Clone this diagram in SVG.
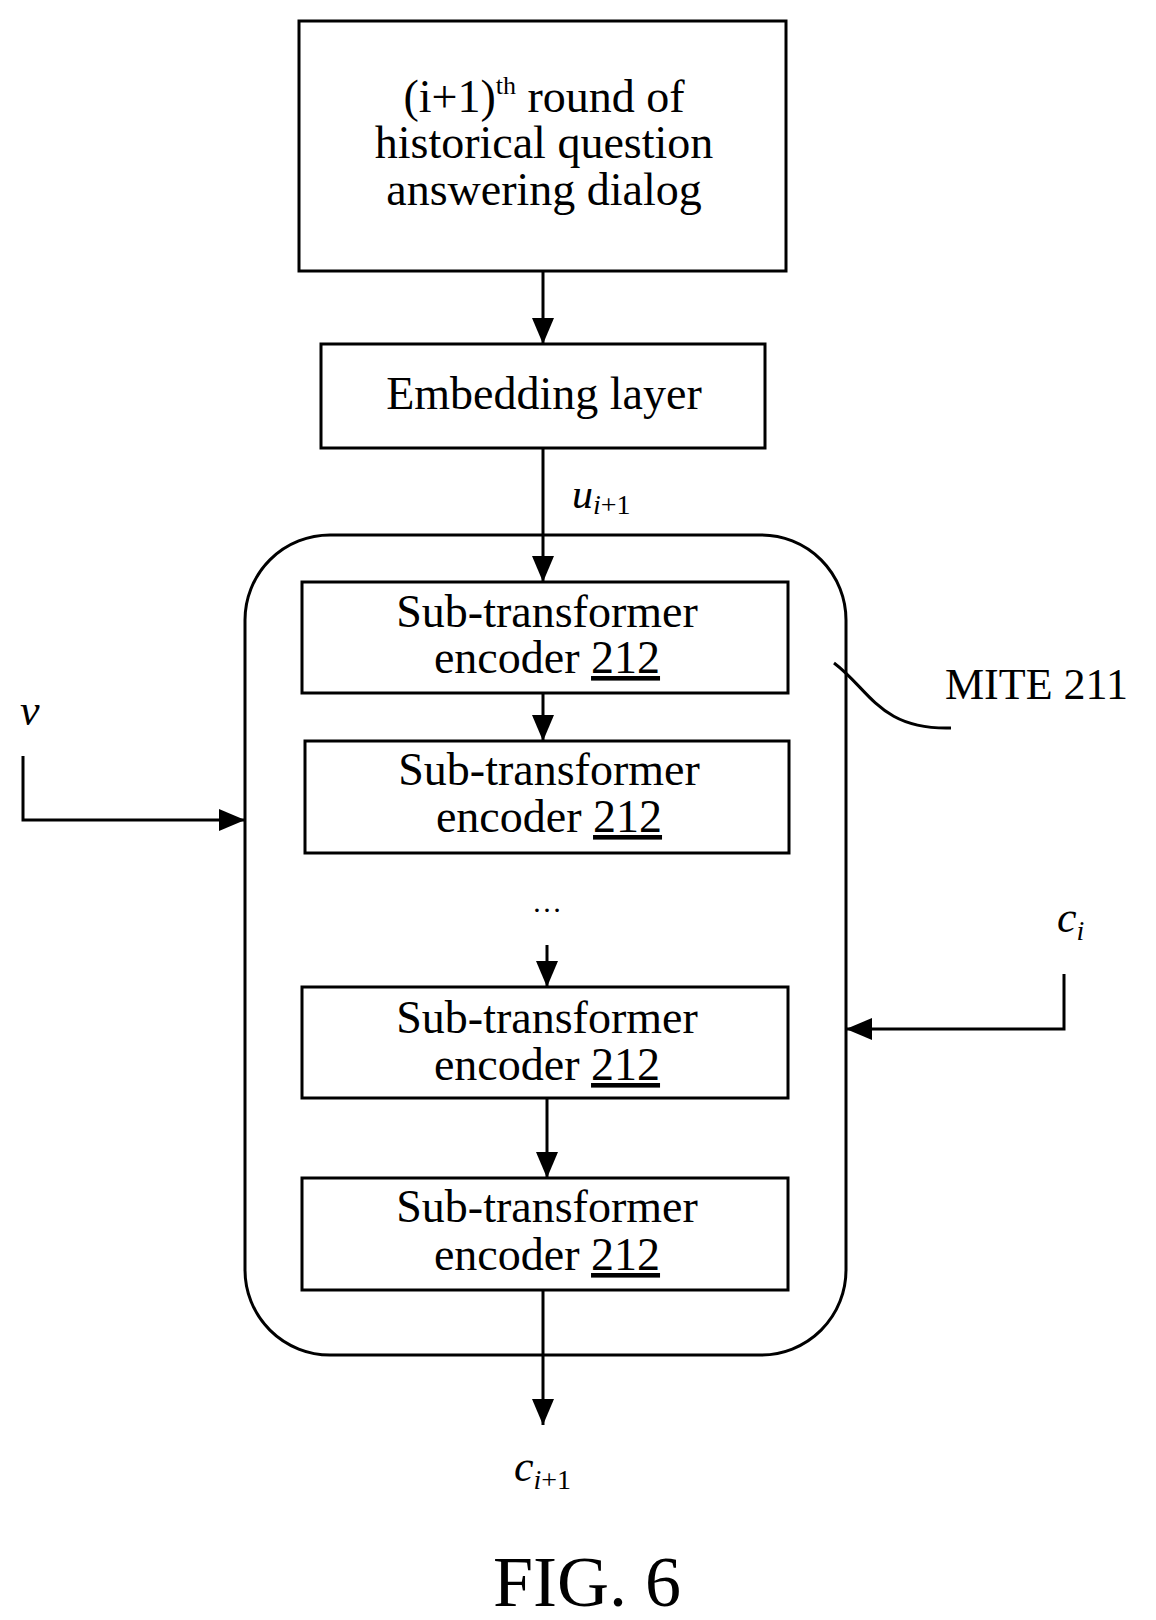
<svg xmlns="http://www.w3.org/2000/svg" width="1156" height="1620" viewBox="0 0 1156 1620">
<style>
text{font-family:"Liberation Serif","Times New Roman",serif;fill:#000}
.b{font-size:46px;text-anchor:middle}
.box{fill:#fff;stroke:#000;stroke-width:3}
.ln{stroke:#000;stroke-width:3;fill:none}
.it{font-style:italic}
</style>
<defs>
<marker id="ah" markerWidth="26" markerHeight="26" refX="26" refY="13" orient="auto" markerUnits="userSpaceOnUse" viewBox="0 0 26 26"><path d="M0,2 L26,13 L0,24z" fill="#000"/></marker></defs>
<g id="container"><rect class="box" x="245" y="535" width="601" height="820" rx="85"/></g>
<g id="n1"><rect class="box" x="299" y="21" width="487" height="250"/>
<text class="b" x="544" y="112">(i+1)<tspan font-size="26" dy="-18">th</tspan><tspan dy="18"> round of</tspan></text>
<text class="b" x="544" y="158">historical question</text>
<text class="b" x="544" y="205">answering dialog</text></g>
<g id="n2"><rect class="box" x="321" y="344" width="444" height="104"/><text class="b" x="544" y="409">Embedding layer</text></g>
<g id="s1"><rect class="box" x="302" y="582" width="486" height="111"/><text class="b" x="547" y="627">Sub-transformer</text><text class="b" x="547" y="673">encoder <tspan text-decoration="underline">212</tspan></text></g>
<g id="s2"><rect class="box" x="305" y="741" width="484" height="112"/><text class="b" x="549" y="785">Sub-transformer</text><text class="b" x="549" y="832">encoder <tspan text-decoration="underline">212</tspan></text></g>
<g id="s3"><rect class="box" x="302" y="987" width="486" height="111"/><text class="b" x="547" y="1033">Sub-transformer</text><text class="b" x="547" y="1080">encoder <tspan text-decoration="underline">212</tspan></text></g>
<g id="s4"><rect class="box" x="302" y="1178" width="486" height="112"/><text class="b" x="547" y="1222">Sub-transformer</text><text class="b" x="547" y="1270">encoder <tspan text-decoration="underline">212</tspan></text></g>
<g id="connectors">
<path class="ln" d="M543,271 V344" marker-end="url(#ah)"/>
<path class="ln" d="M543,448 V582" marker-end="url(#ah)"/>
<path class="ln" d="M543,693 V741" marker-end="url(#ah)"/>
<path class="ln" d="M547,945 V987" marker-end="url(#ah)"/>
<path class="ln" d="M547,1098 V1178" marker-end="url(#ah)"/>
<path class="ln" d="M543,1290 V1425" marker-end="url(#ah)"/>
<path class="ln" d="M23,756 V820 H245" marker-end="url(#ah)"/>
<path class="ln" d="M1064,974 V1029 H846" marker-end="url(#ah)"/>
<path class="ln" d="M834,663 C870,690 880,730 951,728" stroke-width="2.5"/>
</g>
<g id="labels">
<text x="572" y="508" font-size="42" class="it">u<tspan font-size="28" dy="6">i</tspan><tspan font-size="28" font-style="normal">+1</tspan></text>
<text x="547" y="912" font-size="30" text-anchor="middle">…</text>
<text x="20" y="725" font-size="44" class="it">v</text>
<text x="1057" y="932" font-size="44" class="it">c<tspan font-size="28" dy="8">i</tspan></text>
<text x="514" y="1481" font-size="44" class="it">c<tspan font-size="28" dy="8">i</tspan><tspan font-size="28" font-style="normal">+1</tspan></text>
<text x="945" y="699" font-size="44">MITE 211</text>
<text x="587" y="1606" font-size="72" text-anchor="middle">FIG. 6</text>
</g>
</svg>
